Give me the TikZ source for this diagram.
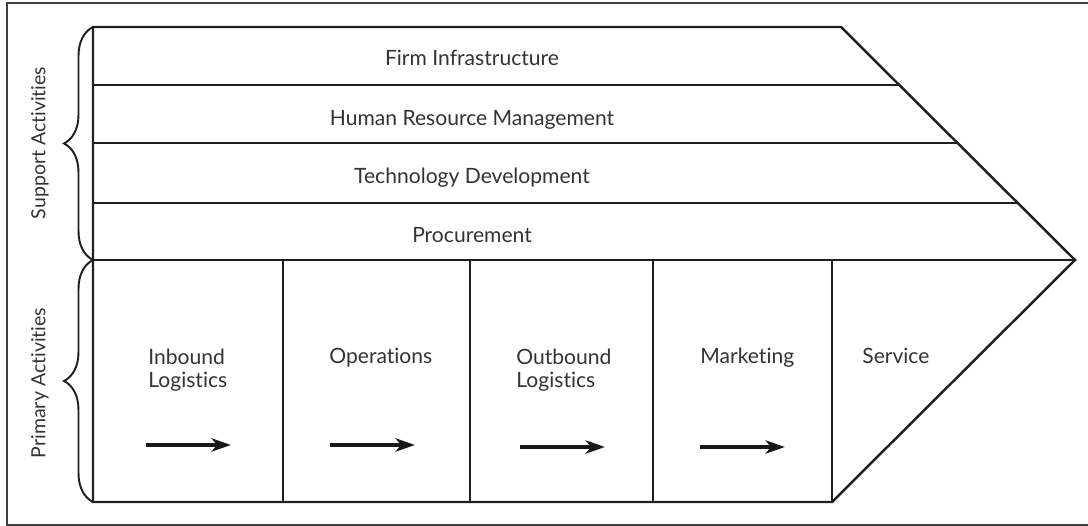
\documentclass[tikz,border=0pt]{standalone}
\usepackage{fontspec}
\setmainfont{Lato}[Ligatures=NoCommon]
\usetikzlibrary{arrows.meta,positioning,decorations.pathreplacing,calc}

\begin{document}
\begin{tikzpicture}[
    x=0.02cm, y=-0.02cm,
    outline/.style={draw=black!88, line width=1.4pt, line join=miter},
    label/.style={font=\fontsize{12}{13.6}\selectfont, text=black!80, inner sep=0pt},
    primary/.style={label, align=left, anchor=base west},
    side/.style={label, font=\fontsize{11.1}{13}\selectfont, rotate=90},
    flow/.style={-{Stealth[length=11pt,width=7.5pt,inset=3pt]}, line width=2.2pt, draw=black!90},
    group/.style={decorate, decoration={brace, amplitude=0.58cm}, line width=1.1pt, draw=black!88}
]
\useasboundingbox (0,0) rectangle (1088,526);
% frame
\draw[black!75, line width=1.1pt] (7,3) rectangle (1110,525);

% value chain outline
\coordinate (nw) at (93,27);
\coordinate (ne) at (841,27);
\coordinate (tip) at (1075,260);
\coordinate (se) at (832,502);
\coordinate (sw) at (93,502);
\draw[outline] (nw) -- (ne) -- (tip) -- (se) -- (sw) -- cycle;

% support activity bands
\foreach \y in {85,143,203,260}
    \draw[outline] (93,\y) -- ({841+\y-27},\y);
\node[label, anchor=base] (infra) at (472,66) {Firm Infrastructure};
\node[label, anchor=base] (hrm) at (472,126) {Human Resource Management};
\node[label, anchor=base] (tech) at (472,184) {Technology Development};
\node[label, anchor=base] (proc) at (472,243) {Procurement};

% primary activity columns
\foreach \x in {283,470,653,832}
    \draw[outline] (\x,260) -- (\x,502);
\node[primary] (inb) at (148,388) {Inbound\\Logistics};
\node[primary] (ops) at (329,364) {Operations};
\node[primary] (outb) at (516,388) {Outbound\\Logistics};
\node[primary] (mkt) at (700,364) {Marketing};
\node[primary] (serv) at (862,364) {Service};

% flow arrows
\foreach \x/\y [count=\i] in {146/445,330/445,520/447,700/447}
    \draw[flow] (\x,\y) coordinate (f\i) -- ++(85,0) coordinate (g\i);

% braces
\draw[group] (93,260) -- (93,27);
\draw[group] (93,502) -- (93,260);
\node[side] (support) at (40,143) {Support Activities};
\node[side] (prim) at (40,383) {Primary Activities};
\end{tikzpicture}
\end{document}
